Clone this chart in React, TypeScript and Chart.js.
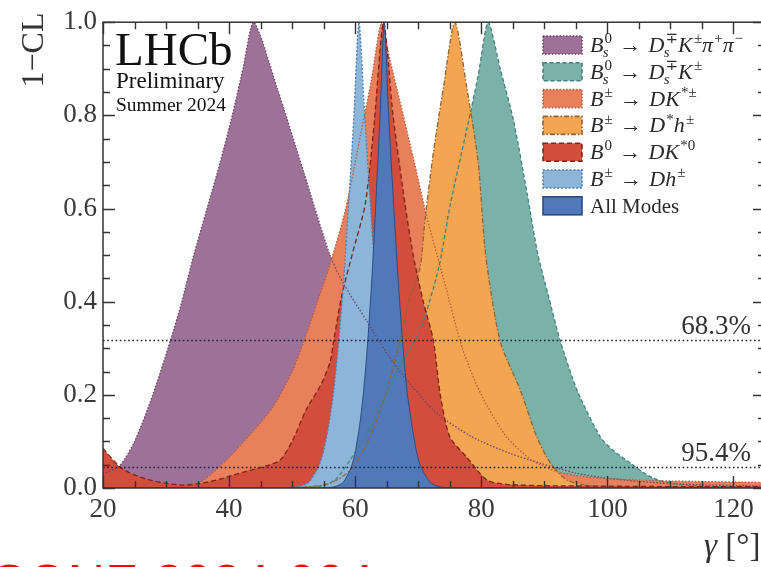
import React, { useEffect, useRef } from 'react';
import { Chart, registerables } from 'chart.js';

Chart.register(...registerables);

// 1−CL profiles versus γ [deg] for each B-decay mode and the combination
const bsDsKpipiGamma = [20, 22.6, 25, 27.9, 30.7, 32.5, 34.4, 36.5, 38.6, 40.5, 42.2, 43.9, 47.6, 51.8, 56, 58.1, 61.9, 66, 72.5, 78.5, 84.6, 89.4, 95, 99, 105, 112, 125];
const bsDsKpipiCL = [0.03, 0.047, 0.1, 0.2, 0.317, 0.4, 0.5, 0.6, 0.7, 0.8, 0.9, 1.0, 0.86, 0.68, 0.5, 0.44, 0.357, 0.27, 0.166, 0.11, 0.074, 0.053, 0.032, 0.023, 0.014, 0.008, 0.004];

const bsDsKGamma = [20, 50, 55, 57, 59.2, 62, 64.5, 67, 70.3, 73.2, 75.1, 77.7, 79.5, 81.1, 83, 85.1, 87.3, 89, 90.7, 92.5, 95.2, 98.9, 101, 103.7, 105.5, 107.3, 110, 115, 125];
const bsDsKCL = [0, 0.001, 0.005, 0.02, 0.06, 0.12, 0.19, 0.26, 0.34, 0.47, 0.61, 0.77, 0.885, 1.0, 0.9, 0.79, 0.63, 0.5, 0.41, 0.317, 0.21, 0.109, 0.08, 0.053, 0.035, 0.021, 0.01, 0.004, 0.001];

const bDKstpmGamma = [20, 28, 33, 35.4, 38, 41, 44, 47, 50, 52, 54, 56, 58.5, 60.8, 62.5, 64.2, 65.5, 67.1, 69.2, 71.4, 74, 77, 80, 84, 88, 92, 96, 100, 110, 125];
const bDKstpmCL = [0.001, 0.003, 0.007, 0.012, 0.04, 0.08, 0.125, 0.175, 0.25, 0.32, 0.4, 0.48, 0.6, 0.755, 0.87, 1.0, 0.92, 0.83, 0.71, 0.58, 0.45, 0.3, 0.2, 0.11, 0.06, 0.035, 0.025, 0.02, 0.015, 0.012];

const bDstHGamma = [20, 45, 52, 56, 59.2, 62, 64.5, 67.1, 68.5, 70.3, 71.1, 72.4, 74, 75.8, 77.7, 79.5, 80.7, 83, 86.2, 88.8, 91, 93.6, 97, 105, 125];
const bDstHCL = [0, 0, 0.002, 0.01, 0.038, 0.1, 0.187, 0.315, 0.4, 0.474, 0.58, 0.72, 0.86, 1.0, 0.86, 0.7, 0.5, 0.315, 0.21, 0.11, 0.053, 0.017, 0.005, 0.001, 0];

const bDKst0Gamma = [20, 22.7, 25, 27.5, 30, 32.7, 35, 38, 40.5, 43.3, 46, 48.1, 50, 52.3, 54.5, 56, 56.6, 57.9, 59.5, 61.6, 63, 64.5, 66, 67.9, 69.2, 70.8, 72.4, 73.5, 75, 77.7, 80.9, 84, 90, 100, 110, 125];
const bDKst0CL = [0.085, 0.045, 0.028, 0.017, 0.01, 0.006, 0.009, 0.017, 0.027, 0.038, 0.048, 0.06, 0.1, 0.17, 0.22, 0.27, 0.317, 0.415, 0.5, 0.61, 0.78, 1.0, 0.8, 0.61, 0.5, 0.4, 0.317, 0.2, 0.11, 0.066, 0.017, 0.008, 0.005, 0.004, 0.003, 0.003];

const bDhGamma = [20, 45, 47.6, 49.4, 51.0, 52.6, 54.2, 55.0, 55.8, 56.6, 57.4, 58.2, 59.0, 59.8, 60.6, 61.5, 62.35, 63.2, 64.1, 65.0, 65.85, 66.7, 67.6, 69.4, 71.1, 72.8, 76, 125];
const bDhCL = [0, 0, 0.0001, 0.0005, 0.003, 0.012, 0.046, 0.08, 0.134, 0.21, 0.317, 0.45, 0.62, 0.8, 1.0, 0.8, 0.62, 0.45, 0.317, 0.21, 0.134, 0.08, 0.046, 0.012, 0.003, 0.0005, 0, 0];

const allGamma = [20, 50, 53, 55.5, 56.8, 58.1, 59.4, 60.05, 60.7, 61.35, 62.0, 62.65, 63.3, 63.95, 64.6, 65.3, 66.05, 66.8, 67.5, 68.2, 69.0, 69.7, 70.4, 71.9, 73.3, 75, 78, 125];
const allCL = [0, 0, 0.0001, 0.0005, 0.003, 0.012, 0.046, 0.08, 0.134, 0.21, 0.317, 0.45, 0.62, 0.8, 1.0, 0.8, 0.62, 0.45, 0.317, 0.21, 0.134, 0.08, 0.046, 0.012, 0.003, 0.0005, 0, 0];

const modeLabels = [
  'B_s^0 \u2192 D_s^\u2213K^\u00b1\u03c0^+\u03c0^\u2212',
  'B_s^0 \u2192 D_s^\u2213K^\u00b1',
  'B^\u00b1 \u2192 DK^{*\u00b1}',
  'B^\u00b1 \u2192 D^*h^\u00b1',
  'B^0 \u2192 DK^{*0}',
  'B^\u00b1 \u2192 Dh^\u00b1',
  'All Modes',
];
const fillColors = ['#9e7198', '#7ab2aa', '#e8805b', '#f4a551', '#d34d3c', '#8db5d8', '#5179ba'];
const lineColors = ['#6e4468', '#43837b', '#b85a3b', '#8f6433', '#7c2519', '#4b7fba', '#2c4c86'];
const lineDashes = [[1.5, 1.8], [4, 2.5], [1.5, 1.8], [5, 2, 1.5, 2], [5, 3], [2, 1.8], []];

const xMajor = [20, 40, 60, 80, 100, 120];
const yMajor = [0, 0.2, 0.4, 0.6, 0.8, 1.0];
const clLevels = [0.317, 0.046];
const clLabels = ['68.3%', '95.4%'];

const series = [
  { gamma: bsDsKpipiGamma, cl: bsDsKpipiCL },
  { gamma: bsDsKGamma, cl: bsDsKCL },
  { gamma: bDKstpmGamma, cl: bDKstpmCL },
  { gamma: bDstHGamma, cl: bDstHCL },
  { gamma: bDKst0Gamma, cl: bDKst0CL },
  { gamma: bDhGamma, cl: bDhCL },
  { gamma: allGamma, cl: allCL },
];

const SERIF = '"Liberation Serif", "DejaVu Serif", "Times New Roman", serif';

type Atom = { base: string; sub?: string; sup?: string };

function parseMath(s: string): Atom[] {
  const atoms: Atom[] = [];
  let i = 0;
  const readGroup = () => {
    if (s[i] === '{') {
      const j = s.indexOf('}', i);
      const g = s.slice(i + 1, j);
      i = j + 1;
      return g;
    }
    const g = s[i];
    i += 1;
    return g;
  };
  while (i < s.length) {
    const c = s[i];
    if ((c === '_' || c === '^') && atoms.length) {
      i += 1;
      const g = readGroup();
      const last = atoms[atoms.length - 1];
      if (c === '_') last.sub = g;
      else last.sup = g;
    } else {
      atoms.push({ base: c });
      i += 1;
    }
  }
  return atoms;
}

function drawMath(ctx: CanvasRenderingContext2D, text: string, x: number, y: number, size: number) {
  let cx = x;
  for (const a of parseMath(text)) {
    const ital = /[A-Za-z\u03c0]/.test(a.base);
    ctx.font = `${ital ? 'italic ' : ''}${size}px ${SERIF}`;
    ctx.fillText(a.base, cx, y);
    const w = a.base === ' ' ? size * 0.33 : ctx.measureText(a.base).width;
    const ss = Math.round(size * 0.66);
    let sw = 0;
    const script = (t: string, dy: number, dx: number) => {
      const it = /[A-Za-z]/.test(t);
      ctx.font = `${it ? 'italic ' : ''}${ss}px ${SERIF}`;
      ctx.fillText(t, cx + w + dx, y + dy);
      sw = Math.max(sw, ctx.measureText(t).width + dx);
    };
    if (a.sup) script(a.sup, -size * 0.4, ital ? size * 0.05 : size * 0.02);
    if (a.sub) script(a.sub, size * 0.24, -size * 0.03);
    cx += w + sw;
  }
}

const decorPlugin = {
  id: 'decor',
  afterDatasetsDraw(chart: any) {
    const { ctx, chartArea: a, scales } = chart;
    const y = scales.y;
    ctx.save();
    ctx.strokeStyle = '#1d2140';
    ctx.lineWidth = 1.7;
    ctx.setLineDash([1.6, 2.6]);
    for (const lv of clLevels) {
      const py = Math.round(y.getPixelForValue(lv)) + 0.5;
      ctx.beginPath();
      ctx.moveTo(a.left, py);
      ctx.lineTo(a.right, py);
      ctx.stroke();
    }
    ctx.restore();
  },
  afterDraw(chart: any) {
    const { ctx, chartArea: a, scales } = chart;
    const x = scales.x;
    const y = scales.y;
    ctx.save();

    // frame
    ctx.strokeStyle = '#333';
    ctx.lineWidth = 1.5;
    ctx.setLineDash([]);
    ctx.strokeRect(a.left, a.top, a.right - a.left, a.bottom - a.top);

    // inward ticks on all four sides
    ctx.lineWidth = 1.4;
    ctx.beginPath();
    for (let v = x.min; v <= x.max + 1e-9; v += 5) {
      const len = xMajor.includes(v) ? 12 : 7;
      const px = Math.round(x.getPixelForValue(v)) + 0.5;
      ctx.moveTo(px, a.bottom);
      ctx.lineTo(px, a.bottom - len);
      ctx.moveTo(px, a.top);
      ctx.lineTo(px, a.top + len);
    }
    for (let k = 0; k <= 20; k++) {
      const v = k * 0.05;
      const len = k % 4 === 0 ? 12 : 7;
      const py = Math.round(y.getPixelForValue(v)) + 0.5;
      ctx.moveTo(a.left, py);
      ctx.lineTo(a.left + len, py);
      ctx.moveTo(a.right, py);
      ctx.lineTo(a.right - len, py);
    }
    ctx.stroke();

    // CL level labels
    ctx.fillStyle = '#333';
    ctx.font = `27px ${SERIF}`;
    ctx.textAlign = 'right';
    ctx.textBaseline = 'alphabetic';
    clLevels.forEach((lv, i) => {
      ctx.fillText(clLabels[i], 751, y.getPixelForValue(lv) - 6);
    });

    // experiment tag
    ctx.textAlign = 'left';
    ctx.fillStyle = '#111';
    ctx.font = `47px ${SERIF}`;
    ctx.fillText('LHCb', 115, 65);
    ctx.font = `23px ${SERIF}`;
    ctx.fillText('Preliminary', 116, 88);
    ctx.font = `19.5px ${SERIF}`;
    ctx.fillText('Summer 2024', 116, 111);

    // axis titles
    ctx.fillStyle = '#333';
    ctx.save();
    ctx.translate(43, 50);
    ctx.rotate(-Math.PI / 2);
    ctx.textAlign = 'center';
    ctx.font = `32px ${SERIF}`;
    ctx.fillText('1\u2212CL', 0, 0);
    ctx.restore();

    ctx.font = `italic 33px ${SERIF}`;
    ctx.fillText('\u03b3', 704, 556);
    const gw = ctx.measureText('\u03b3').width;
    ctx.font = `33px ${SERIF}`;
    ctx.fillText(' [\u00b0]', 704 + gw, 556);

    // document reference
    ctx.fillStyle = '#ff0000';
    ctx.font = '52px "Liberation Sans", Arial, sans-serif';
    ctx.textAlign = 'right';
    ctx.fillText('LHCb-CONF-2024-004', 374, 601);

    // legend
    ctx.textAlign = 'left';
    modeLabels.forEach((label, i) => {
      const cy = 45 + i * 26.8;
      ctx.fillStyle = fillColors[i];
      ctx.fillRect(543, cy - 9, 39, 18);
      ctx.strokeStyle = lineColors[i];
      ctx.lineWidth = 1.6;
      ctx.setLineDash(lineDashes[i]);
      ctx.strokeRect(543, cy - 9, 39, 18);
      ctx.setLineDash([]);
      ctx.fillStyle = '#2a2a2a';
      if (label === 'All Modes') {
        ctx.font = `21px ${SERIF}`;
        ctx.fillText(label, 590, cy + 7);
      } else {
        drawMath(ctx, label, 590, cy + 7, 22);
      }
    });

    ctx.restore();
  },
};

export default function App() {
  const ref = useRef<HTMLCanvasElement | null>(null);

  useEffect(() => {
    if (!ref.current) return;
    const n = series.length;
    const fills = series.map((s, i) => ({
      label: modeLabels[i],
      data: s.gamma.map((g, k) => ({ x: g, y: s.cl[k] })),
      backgroundColor: fillColors[i],
      borderWidth: 0,
      borderColor: 'rgba(0,0,0,0)',
      fill: 'origin',
      tension: 0.25,
      pointRadius: 0,
      order: 100 - i,
    }));
    const outlines = series.map((s, i) => ({
      label: modeLabels[i] + ' outline',
      data: s.gamma.map((g, k) => ({ x: g, y: s.cl[k] })),
      borderColor: lineColors[i],
      borderWidth: i === n - 1 ? 1 : 1.3,
      borderDash: lineDashes[i],
      fill: false,
      tension: 0.25,
      pointRadius: 0,
      order: 10 - i,
    }));

    const chart = new Chart(ref.current, {
      type: 'line',
      data: { datasets: [...fills, ...outlines] as any },
      options: {
        animation: false,
        responsive: false,
        devicePixelRatio: 1,
        layout: { padding: { top: 18, right: 25, left: 0, bottom: 0 } },
        plugins: { legend: { display: false }, tooltip: { enabled: false } },
        scales: {
          x: {
            type: 'linear',
            min: 20,
            max: 125,
            grid: { display: false, drawTicks: false },
            border: { display: false },
            ticks: { color: '#3a3a3a', font: { family: SERIF, size: 27 }, padding: 6, maxRotation: 0 },
            afterBuildTicks: (s: any) => {
              s.ticks = xMajor.map((v) => ({ value: v }));
            },
            afterFit: (s: any) => {
              s.height = 79;
            },
          },
          y: {
            type: 'linear',
            min: 0,
            max: 1,
            grid: { display: false, drawTicks: false },
            border: { display: false },
            ticks: {
              color: '#3a3a3a',
              font: { family: SERIF, size: 27 },
              padding: 6,
              callback: (v: any) => Number(v).toFixed(1),
            },
            afterBuildTicks: (s: any) => {
              s.ticks = yMajor.map((v) => ({ value: v }));
            },
            afterFit: (s: any) => {
              s.width = 103;
            },
          },
        },
      },
      plugins: [decorPlugin],
    });
    return () => chart.destroy();
  }, []);

  return (
    <div
      style={{
        position: 'fixed',
        left: 0,
        top: 0,
        width: 761,
        height: 567,
        overflow: 'hidden',
        background: '#fff',
      }}
    >
      <canvas ref={ref} width={790} height={567} style={{ display: 'block' }} />
    </div>
  );
}
